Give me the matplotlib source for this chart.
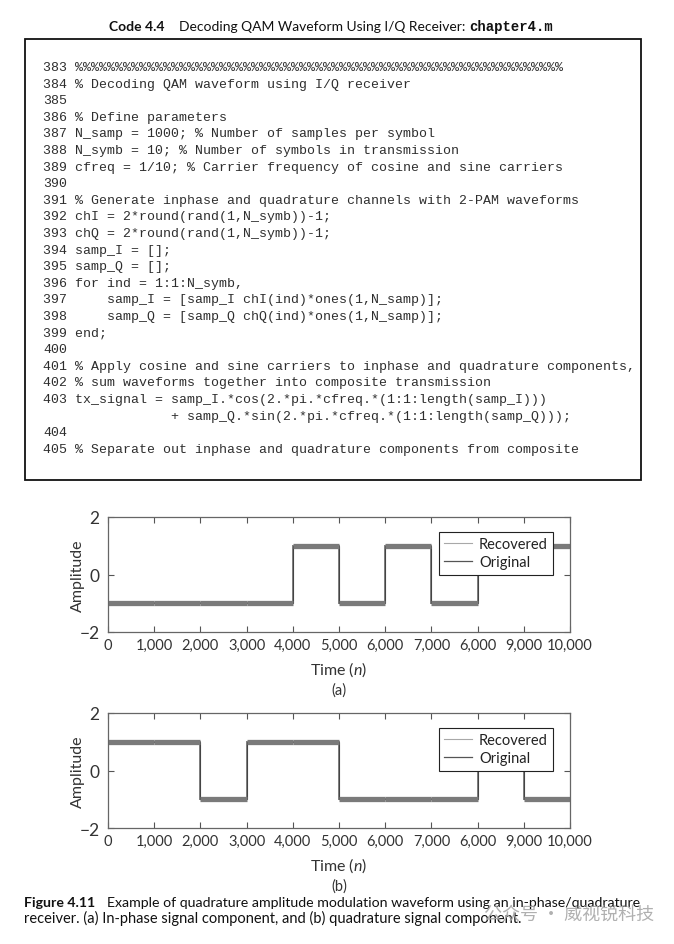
import matplotlib
matplotlib.use("Agg")
import matplotlib.pyplot as plt
from matplotlib.lines import Line2D
from matplotlib.patches import Rectangle
import numpy as np

plt.rcParams['font.family'] = ['Lato', 'DejaVu Sans']
plt.rcParams['mathtext.fontset'] = 'custom'
plt.rcParams['mathtext.it'] = 'Lato:italic'
plt.rcParams['mathtext.rm'] = 'Lato'

# symbol data (one value per 1000 samples)
edges = [0, 1000, 2000, 3000, 4000, 5000, 6000, 7000, 8000, 9000, 10000]
chI = [-1, -1, -1, -1, 1, -1, 1, -1, 1, 1]
chQ = [1, 1, -1, 1, 1, -1, -1, -1, 1, -1]
xticks = [0, 1000, 2000, 3000, 4000, 5000, 6000, 7000, 8000, 9000, 10000]
xticklabels = ['0', '1,000', '2,000', '3,000', '4,000', '5,000', '6,000',
               '7,000', '6,000', '9,000', '10,000']
yticks = [-2, 0, 2]
yticklabels = ['\u22122', '0', '2']

code_lines = [
    "383 " + "%" * 61,
    "384 % Decoding QAM waveform using I/Q receiver",
    "385",
    "386 % Define parameters",
    "387 N_samp = 1000; % Number of samples per symbol",
    "388 N_symb = 10; % Number of symbols in transmission",
    "389 cfreq = 1/10; % Carrier frequency of cosine and sine carriers",
    "390",
    "391 % Generate inphase and quadrature channels with 2-PAM waveforms",
    "392 chI = 2*round(rand(1,N_symb))-1;",
    "393 chQ = 2*round(rand(1,N_symb))-1;",
    "394 samp_I = [];",
    "395 samp_Q = [];",
    "396 for ind = 1:1:N_symb,",
    "397     samp_I = [samp_I chI(ind)*ones(1,N_samp)];",
    "398     samp_Q = [samp_Q chQ(ind)*ones(1,N_samp)];",
    "399 end;",
    "400",
    "401 % Apply cosine and sine carriers to inphase and quadrature components,",
    "402 % sum waveforms together into composite transmission",
    "403 tx_signal = samp_I.*cos(2.*pi.*cfreq.*(1:1:length(samp_I)))",
    "                + samp_Q.*sin(2.*pi.*cfreq.*(1:1:length(samp_Q)));",
    "404",
    "405 % Separate out inphase and quadrature components from composite",
]

W, H = 674, 945
fig = plt.figure(figsize=(W / 100, H / 100), dpi=100)


def fx(x):
    return x / W


def fy(y):
    return 1 - y / H


# title, built from three pieces and centred
r = fig.canvas.get_renderer()
parts = [("Code 4.4", dict(fontweight='bold', family=['Lato'])),
         ("    Decoding QAM Waveform Using I/Q Receiver: ", dict(family=['Lato'])),
         ("chapter4.m", dict(fontweight='bold', family=['Liberation Mono']))]
texts = []
for s, kw in parts:
    t = fig.text(0, fy(27), s, fontsize=10, va='center', color='#111', **kw)
    texts.append(t)
widths = [t.get_window_extent(r).width for t in texts]
x = 331 - sum(widths) / 2
for t, w in zip(texts, widths):
    t.set_x(fx(x))
    x += w

# code box
fig.patches.append(Rectangle((fx(25), fy(481)), fx(641) - fx(25), fy(40) - fy(481),
                             transform=fig.transFigure, fill=False,
                             edgecolor='#111', linewidth=1.3))
for i, line in enumerate(code_lines):
    fig.text(fx(43), fy(68 + i * 16.6), line, family=['Liberation Mono'],
             fontsize=9.5, va='center', ha='left', color='#2e2e2e')


def wave(ax, vals, label):
    ax.hlines(vals, edges[:-1], edges[1:], color='#7a7a7a', linewidth=3.8)
    ax.stairs(vals, edges, baseline=None, color='#808080', linewidth=1.4)
    ax.stairs(vals, edges, baseline=None, color='#444444', linewidth=0.8)
    ax.set_xlim(0, 10000)
    ax.set_ylim(-2, 2)
    ax.set_xticks(xticks)
    ax.set_xticklabels(xticklabels)
    ax.set_yticks(yticks)
    ax.set_yticklabels(yticklabels)
    ax.tick_params(direction='in', top=True, right=True, length=4,
                   width=0.8, color='#555', labelsize=10.5, labelcolor='#333', pad=4)
    ax.tick_params(axis='y', labelsize=12.5, pad=6)
    for sp in ax.spines.values():
        sp.set_color('#666')
        sp.set_linewidth(0.9)
    ax.set_xlabel('Time ($\\it{n}$)', fontsize=11.5, color='#333', labelpad=6)
    ax.set_ylabel('Amplitude', fontsize=11.5, color='#333', labelpad=-4)
    handles = [Line2D([], [], color='#a8a8a8', linewidth=0.8),
               Line2D([], [], color='#555555', linewidth=0.9)]
    leg = ax.legend(handles, ['Recovered', 'Original'], loc='upper right',
                    bbox_to_anchor=(0.963, 0.87), fancybox=False,
                    edgecolor='#222', framealpha=1, fontsize=10.5,
                    handlelength=1.9, handletextpad=0.5, borderpad=0.35,
                    labelspacing=0.3, borderaxespad=0)
    leg.get_frame().set_linewidth(0.8)
    for t in leg.get_texts():
        t.set_color('#222')
    ax.text(0.5, -0.50, label, transform=ax.transAxes, ha='center',
            va='center', fontsize=10.5, color='#333')


ax1 = fig.add_axes([fx(108), fy(633), fx(570) - fx(108), fy(518) - fy(633)])
wave(ax1, chI, '(a)')
ax2 = fig.add_axes([fx(108), fy(829), fx(570) - fx(108), fy(714) - fy(829)])
wave(ax2, chQ, '(b)')

# caption
cap1 = fig.text(fx(24), fy(903), "Figure 4.11", fontweight='bold', fontsize=10.2,
                va='center', color='#111')
bb = cap1.get_window_extent(r)
fig.text(fx(bb.x1 + 12), fy(903),
         "Example of quadrature amplitude modulation waveform using an in-phase/quadrature",
         fontsize=10.2, va='center', color='#111')
fig.text(fx(24), fy(918),
         "receiver. (a) In-phase signal component, and (b) quadrature signal component.",
         fontsize=10.5, va='center', color='#111')
fig.text(fx(484), fy(916), "公众号 · 威视锐科技", family=['Noto Sans CJK SC', 'DejaVu Sans'],
         fontsize=13, va='center', color='#a8a8a8', alpha=0.9)

fig.savefig("out.png", dpi=100)
